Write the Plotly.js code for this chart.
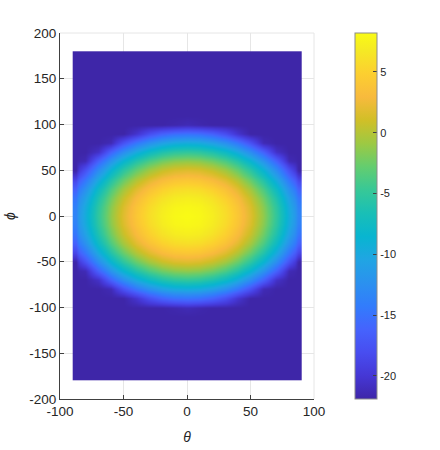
<!DOCTYPE html>
<html>
<head>
<meta charset="utf-8">
<script src="https://cdn.plot.ly/plotly-3.0.1.min.js"></script>
<style>
  html, body { margin: 0; padding: 0; background: #ffffff; }
  #chart { width: 440px; height: 450px; }
</style>
</head>
<body>
<div id="chart"></div>
<script>
// theta (x) cell edges, phi (y) cell edges, in degrees
const thetaEdges = [-90, -85, -75, -65, -55, -45, -35, -25, -15, -5, 5, 15, 25, 35, 45, 55, 65, 75, 85, 90];
const phiEdges = [-180, -115, -105, -95, -85, -75, -65, -55, -45, -35, -25, -15, -5,
                  5, 15, 25, 35, 45, 55, 65, 75, 85, 95, 105, 115, 180];

// values (dB), one row per phi cell (bottom to top)
const gainRows = [
  [-21.90,-21.90,-21.90,-21.90,-21.90,-21.90,-21.90,-21.90,-21.90,-21.90,-21.90,-21.90,-21.90,-21.90,-21.90,-21.90,-21.90,-21.90,-21.90],
  [-21.90,-21.90,-21.90,-21.90,-21.90,-21.90,-21.90,-21.90,-21.90,-21.90,-21.90,-21.90,-21.90,-21.90,-21.90,-21.90,-21.90,-21.90,-21.90],
  [-21.90,-21.90,-21.90,-21.90,-21.90,-21.90,-21.90,-21.90,-21.65,-21.30,-21.65,-21.90,-21.90,-21.90,-21.90,-21.90,-21.90,-21.90,-21.90],
  [-21.90,-21.90,-21.90,-21.90,-21.90,-20.27,-17.90,-16.24,-15.25,-14.93,-15.25,-16.24,-17.90,-20.27,-21.90,-21.90,-21.90,-21.90,-21.90],
  [-21.90,-21.90,-21.90,-21.30,-17.57,-14.60,-12.35,-10.77,-9.84,-9.53,-9.84,-10.77,-12.35,-14.60,-17.57,-21.30,-21.90,-21.90,-21.90],
  [-21.90,-21.90,-20.61,-16.24,-12.67,-9.84,-7.69,-6.19,-5.30,-5.01,-5.30,-6.19,-7.69,-9.84,-12.67,-16.24,-20.61,-21.90,-21.90],
  [-21.90,-21.30,-16.24,-12.03,-8.61,-5.89,-3.84,-2.40,-1.55,-1.27,-1.55,-2.40,-3.84,-5.89,-8.61,-12.03,-16.24,-21.30,-21.90],
  [-21.84,-17.57,-12.67,-8.61,-5.30,-2.69,-0.71,0.67,1.49,1.76,1.49,0.67,-0.71,-2.69,-5.30,-8.61,-12.67,-17.57,-21.84],
  [-18.76,-14.60,-9.84,-5.89,-2.69,-0.15,1.76,3.10,3.89,4.15,3.89,3.10,1.76,-0.15,-2.69,-5.89,-9.84,-14.60,-18.76],
  [-16.42,-12.35,-7.69,-3.84,-0.71,1.76,3.63,4.93,5.70,5.95,5.70,4.93,3.63,1.76,-0.71,-3.84,-7.69,-12.35,-16.42],
  [-14.78,-10.77,-6.19,-2.40,0.67,3.10,4.93,6.21,6.96,7.21,6.96,6.21,4.93,3.10,0.67,-2.40,-6.19,-10.77,-14.78],
  [-13.81,-9.84,-5.30,-1.55,1.49,3.89,5.70,6.96,7.71,7.95,7.71,6.96,5.70,3.89,1.49,-1.55,-5.30,-9.84,-13.81],
  [-13.49,-9.53,-5.01,-1.27,1.76,4.15,5.95,7.21,7.95,8.20,7.95,7.21,5.95,4.15,1.76,-1.27,-5.01,-9.53,-13.49],
  [-13.81,-9.84,-5.30,-1.55,1.49,3.89,5.70,6.96,7.71,7.95,7.71,6.96,5.70,3.89,1.49,-1.55,-5.30,-9.84,-13.81],
  [-14.78,-10.77,-6.19,-2.40,0.67,3.10,4.93,6.21,6.96,7.21,6.96,6.21,4.93,3.10,0.67,-2.40,-6.19,-10.77,-14.78],
  [-16.42,-12.35,-7.69,-3.84,-0.71,1.76,3.63,4.93,5.70,5.95,5.70,4.93,3.63,1.76,-0.71,-3.84,-7.69,-12.35,-16.42],
  [-18.76,-14.60,-9.84,-5.89,-2.69,-0.15,1.76,3.10,3.89,4.15,3.89,3.10,1.76,-0.15,-2.69,-5.89,-9.84,-14.60,-18.76],
  [-21.84,-17.57,-12.67,-8.61,-5.30,-2.69,-0.71,0.67,1.49,1.76,1.49,0.67,-0.71,-2.69,-5.30,-8.61,-12.67,-17.57,-21.84],
  [-21.90,-21.30,-16.24,-12.03,-8.61,-5.89,-3.84,-2.40,-1.55,-1.27,-1.55,-2.40,-3.84,-5.89,-8.61,-12.03,-16.24,-21.30,-21.90],
  [-21.90,-21.90,-20.61,-16.24,-12.67,-9.84,-7.69,-6.19,-5.30,-5.01,-5.30,-6.19,-7.69,-9.84,-12.67,-16.24,-20.61,-21.90,-21.90],
  [-21.90,-21.90,-21.90,-21.30,-17.57,-14.60,-12.35,-10.77,-9.84,-9.53,-9.84,-10.77,-12.35,-14.60,-17.57,-21.30,-21.90,-21.90,-21.90],
  [-21.90,-21.90,-21.90,-21.90,-21.90,-20.27,-17.90,-16.24,-15.25,-14.93,-15.25,-16.24,-17.90,-20.27,-21.90,-21.90,-21.90,-21.90,-21.90],
  [-21.90,-21.90,-21.90,-21.90,-21.90,-21.90,-21.90,-21.90,-21.65,-21.30,-21.65,-21.90,-21.90,-21.90,-21.90,-21.90,-21.90,-21.90,-21.90],
  [-21.90,-21.90,-21.90,-21.90,-21.90,-21.90,-21.90,-21.90,-21.90,-21.90,-21.90,-21.90,-21.90,-21.90,-21.90,-21.90,-21.90,-21.90,-21.90],
  [-21.90,-21.90,-21.90,-21.90,-21.90,-21.90,-21.90,-21.90,-21.90,-21.90,-21.90,-21.90,-21.90,-21.90,-21.90,-21.90,-21.90,-21.90,-21.90]
];

const colorMin = -21.9;
const colorMax = 8.2;

const xTicks = [-100, -50, 0, 50, 100];
const yTicks = [-200, -150, -100, -50, 0, 50, 100, 150, 200];
const cbTicks = [-20, -15, -10, -5, 0, 5];

// MATLAB parula colormap
const parula = [
  [0.000, 'rgb(62,38,168)'],
  [0.063, 'rgb(69,55,213)'],
  [0.127, 'rgb(72,77,240)'],
  [0.190, 'rgb(69,99,253)'],
  [0.254, 'rgb(50,124,252)'],
  [0.317, 'rgb(43,145,239)'],
  [0.381, 'rgb(32,165,227)'],
  [0.444, 'rgb(8,181,208)'],
  [0.508, 'rgb(25,191,182)'],
  [0.571, 'rgb(55,200,151)'],
  [0.635, 'rgb(100,205,111)'],
  [0.698, 'rgb(157,201,67)'],
  [0.762, 'rgb(209,191,39)'],
  [0.825, 'rgb(248,186,61)'],
  [0.889, 'rgb(252,207,48)'],
  [0.952, 'rgb(245,233,36)'],
  [1.000, 'rgb(249,251,21)']
];

const textColor = '#262626';
const fontFam = '"Liberation Sans", Arial, Helvetica, sans-serif';

const trace = {
  type: 'heatmap',
  x: thetaEdges,
  y: phiEdges,
  z: gainRows,
  zsmooth: 'best',
  zmin: colorMin,
  zmax: colorMax,
  colorscale: parula,
  hoverinfo: 'skip',
  colorbar: {
    x: 1.161, xanchor: 'left', xpad: 0,
    y: 0.5, yanchor: 'middle', ypad: 0,
    len: 1, lenmode: 'fraction',
    thickness: 22, thicknessmode: 'pixels',
    outlinecolor: '#8c8c8c', outlinewidth: 1,
    tickmode: 'array', tickvals: cbTicks, ticktext: cbTicks.map(String),
    ticks: 'inside', ticklen: 4, tickcolor: '#404040', tickwidth: 1,
    ticklabelstandoff: 4,
    tickfont: { family: fontFam, size: 11, color: textColor }
  }
};

const axisCommon = {
  showline: true, linecolor: '#404040', linewidth: 1,
  showgrid: true, gridcolor: '#e6e6e6', gridwidth: 1,
  zeroline: false,
  ticks: 'inside', ticklen: 4, tickcolor: '#404040', tickwidth: 1,
  tickfont: { family: fontFam, size: 13.5, color: textColor },
  tickmode: 'array',
  mirror: false
};

const layout = {
  width: 440, height: 450,
  margin: { l: 60, r: 126, t: 33, b: 51 },
  paper_bgcolor: '#ffffff',
  plot_bgcolor: '#ffffff',
  font: { family: fontFam, color: textColor },
  xaxis: Object.assign({}, axisCommon, {
    range: [-100, 100],
    tickvals: xTicks, ticktext: xTicks.map(String),
    title: { text: '<i>θ</i>', font: { family: fontFam, size: 14, color: textColor }, standoff: 13 }
  }),
  yaxis: Object.assign({}, axisCommon, {
    range: [-200, 200],
    tickvals: yTicks, ticktext: yTicks.map(String),
    title: { text: '<i>ϕ</i>', font: { family: fontFam, size: 14, color: textColor }, standoff: 10 }
  }),
  shapes: [
    { type: 'line', xref: 'paper', yref: 'paper', x0: 0, x1: 1, y0: 1, y1: 1, line: { color: '#e6e6e6', width: 1 }, layer: 'below' },
    { type: 'line', xref: 'paper', yref: 'paper', x0: 1, x1: 1, y0: 0, y1: 1, line: { color: '#e6e6e6', width: 1 }, layer: 'below' }
  ],
  showlegend: false
};

Plotly.newPlot('chart', [trace], layout, { displayModeBar: false, staticPlot: true });
</script>
</body>
</html>
